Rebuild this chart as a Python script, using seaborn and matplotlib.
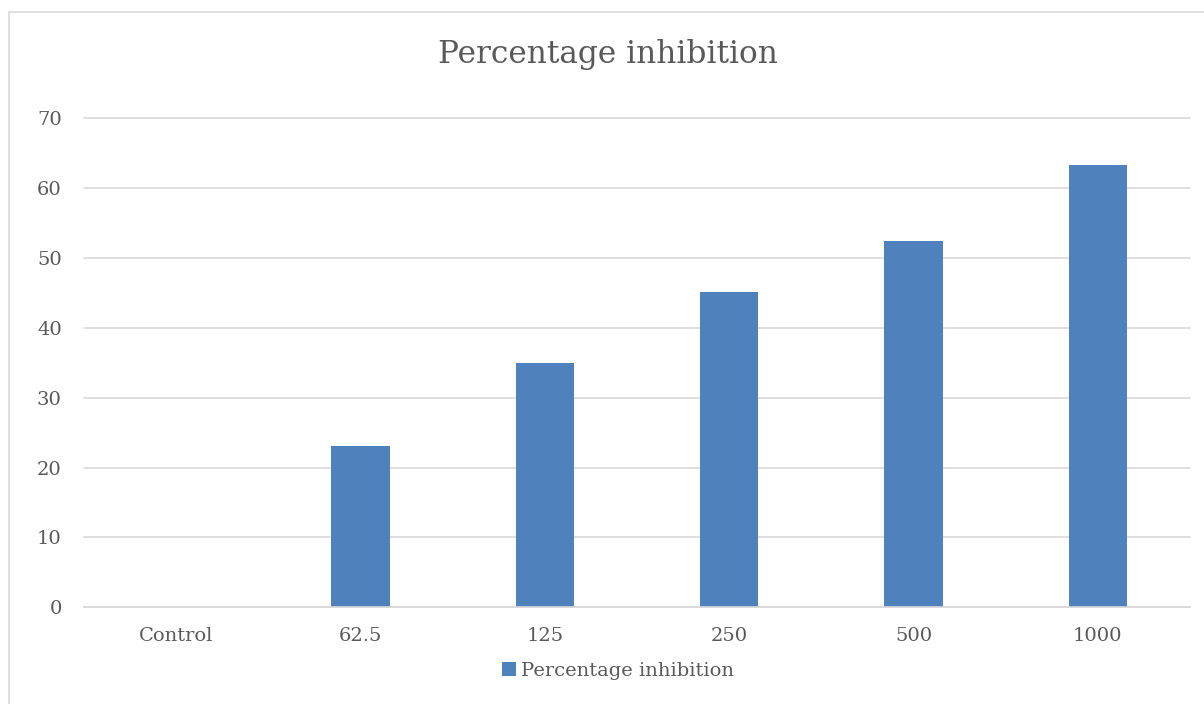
import matplotlib
matplotlib.use("Agg")
import matplotlib.pyplot as plt
import seaborn as sns
from matplotlib.patches import Rectangle

concentrations = ["Control", "62.5", "125", "250", "500", "1000"]
inhibition = [0, 23.05, 34.97, 45.09, 52.39, 63.31]

sns.set_style("white")
plt.rcParams['font.family'] = ['DejaVu Serif']
text_col = "#595959"
bar_col = "#4F81BD"
grid_col = "#d9d9d9"

fig = plt.figure(figsize=(12.04, 7.04), dpi=100)
ax = fig.add_axes([84 / 1204, 1 - 607.3 / 704, (1190 - 84) / 1204, (607.3 - 118.3) / 704])

sns.barplot(x=concentrations, y=inhibition, order=concentrations, color=bar_col,
            width=0.315, saturation=1, linewidth=0, label="Percentage inhibition", ax=ax)

ax.set_ylim(0, 70)
ax.set_xlim(-0.5, 5.5)
ax.set_yticks(range(0, 71, 10))
ax.yaxis.grid(True, color=grid_col, linewidth=1.2)
for gl in ax.get_ygridlines():
    gl.set_clip_on(False)
ax.set_axisbelow(True)
for s in ["top", "right", "left"]:
    ax.spines[s].set_visible(False)
ax.spines["bottom"].set_color(grid_col)
ax.spines["bottom"].set_linewidth(1.2)
ax.tick_params(axis="both", length=0, colors=text_col, labelsize=14)
ax.tick_params(axis="y", pad=16)
ax.tick_params(axis="x", pad=14)
ax.set_xlabel("")
ax.set_ylabel("")

fig.text(0.505, 1 - 55 / 704, "Percentage inhibition", ha="center", va="center",
         fontsize=22.5, color=text_col)

leg = ax.legend(loc="center", bbox_to_anchor=(0.483, -0.13), frameon=False,
                handlelength=0.7, handleheight=0.7, handletextpad=0.3,
                fontsize=14)
for t in leg.get_texts():
    t.set_color(text_col)

fig.patches.append(Rectangle((9 / 1204, -0.1), 1.2, 1 - 12 / 704 + 0.1,
                             transform=fig.transFigure, fill=False,
                             edgecolor=grid_col, linewidth=1.2))

fig.savefig("out.png", dpi=100)
